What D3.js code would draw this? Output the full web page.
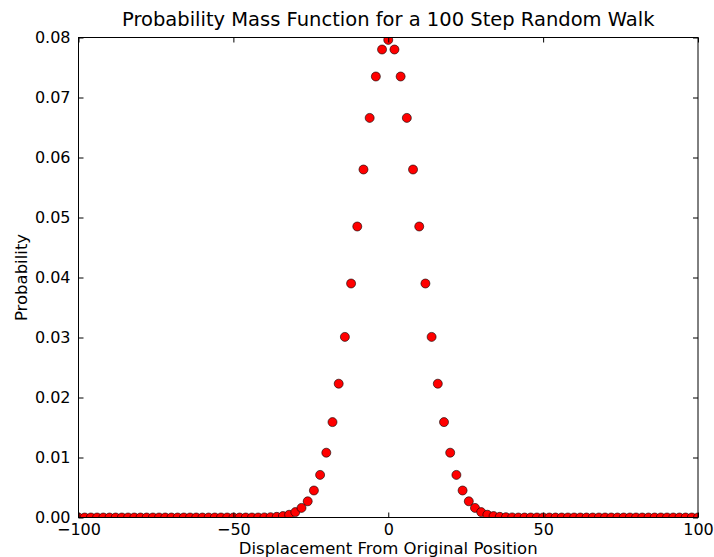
<!DOCTYPE html>
<html>
<head>
<meta charset="UTF-8">
<script src="https://d3js.org/d3.v7.min.js"></script>
<style>
  body { margin: 0; background: #fff; }
  text { font-family: "DejaVu Sans", sans-serif; fill: #000; }
</style>
</head>
<body>
<script>
// displacement values: -100 .. 100 in steps of 2
const displacement = [];
for (let d = -100; d <= 100; d += 2) displacement.push(d);

// probabilities, centre outwards (0, ±2, ±4, ...)
const centreOut = [0.0796, 0.0780, 0.0735, 0.0666, 0.0580, 0.0485, 0.0390, 0.0301,
  0.0223, 0.0159, 0.0108, 0.0071, 0.0045, 0.0027, 0.0016, 0.0009, 0.00046,
  0.00024, 0.00011, 0.00005, 0.00002];
const probability = displacement.map(d => centreOut[Math.abs(d) / 2] || 0);

const xTicks = [-100, -50, 0, 50, 100];
const yTicks = [0, 0.01, 0.02, 0.03, 0.04, 0.05, 0.06, 0.07, 0.08];

const W = 714, H = 557;
const margin = {top: 37.5, right: 16, bottom: 39.5, left: 78.5};
const width = W - margin.left - margin.right;
const height = H - margin.top - margin.bottom;

const svg = d3.select("body").append("svg")
  .attr("width", W).attr("height", H);

const g = svg.append("g")
  .attr("transform", "translate(" + margin.left + "," + margin.top + ")");

const x = d3.scaleLinear().domain([-100, 100]).range([0, width]);
const y = d3.scaleLinear().domain([0, 0.08]).range([height, 0]);

g.append("clipPath").attr("id", "clip")
  .append("rect").attr("width", width).attr("height", height);

// points
g.append("g").attr("clip-path", "url(#clip)")
  .selectAll("circle")
  .data(displacement)
  .join("circle")
    .attr("cx", (d, i) => x(d))
    .attr("cy", (d, i) => y(probability[i]))
    .attr("r", 4.5)
    .attr("fill", "#ff0000")
    .attr("stroke", "#000")
    .attr("stroke-width", 0.6);

// axes with inward ticks on all sides
const tickLen = 5;
const xb = g.append("g").attr("transform", "translate(0," + height + ")")
  .call(d3.axisBottom(x).tickValues(xTicks).tickSizeInner(-tickLen).tickSizeOuter(0)
    .tickPadding(6).tickFormat(d => d < 0 ? "\u2212" + Math.abs(d) : d));
const xt = g.append("g")
  .call(d3.axisTop(x).tickValues(xTicks).tickSizeInner(-tickLen).tickSizeOuter(0).tickFormat(""));
const yl = g.append("g")
  .call(d3.axisLeft(y).tickValues(yTicks).tickSizeInner(-tickLen).tickSizeOuter(0)
    .tickPadding(8).tickFormat(d3.format(".2f")));
const yr = g.append("g").attr("transform", "translate(" + width + ",0)")
  .call(d3.axisRight(y).tickValues(yTicks).tickSizeInner(-tickLen).tickSizeOuter(0).tickFormat(""));

[xb, xt, yl, yr].forEach(a => {
  a.select(".domain").remove();
  a.selectAll("text").style("font-size", "16px").style("font-family", "DejaVu Sans");
  a.selectAll("line").attr("stroke", "#000");
});

g.append("rect").attr("width", width).attr("height", height)
  .attr("fill", "none").attr("stroke", "#000").attr("stroke-width", 1);

svg.append("text")
  .attr("x", margin.left + width / 2).attr("y", 26)
  .attr("text-anchor", "middle").style("font-size", "19.5px")
  .text("Probability Mass Function for a 100 Step Random Walk");

svg.append("text")
  .attr("x", margin.left + width / 2).attr("y", 554)
  .attr("text-anchor", "middle").style("font-size", "16.5px")
  .text("Displacement From Original Position");

svg.append("text")
  .attr("transform", "translate(27," + (margin.top + height / 2) + ") rotate(-90)")
  .attr("text-anchor", "middle").style("font-size", "16.5px")
  .text("Probability");
</script>
</body>
</html>
